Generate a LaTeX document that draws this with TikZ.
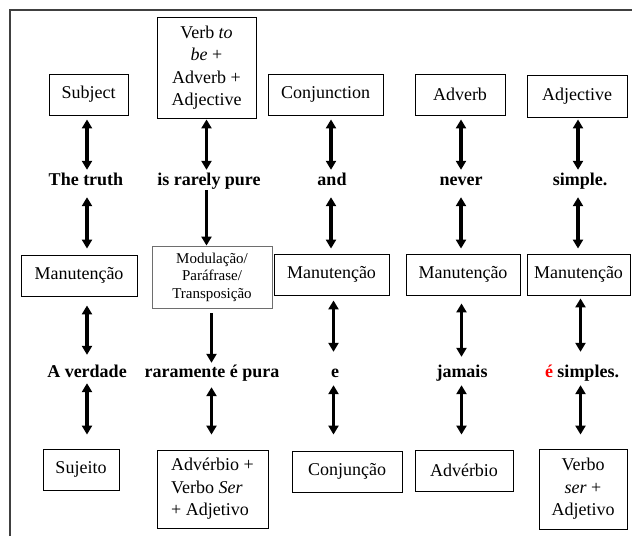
\documentclass[tikz,border=0pt]{standalone}
\usepackage{fontspec}
\setmainfont{Liberation Serif}
\usetikzlibrary{arrows.meta}
\definecolor{framecol}{RGB}{64,64,64}
\definecolor{modcol}{RGB}{110,110,110}
\begin{document}
\begin{tikzpicture}[x=1pt,y=-1pt,
  box/.style={draw=black, line width=0.9pt, inner sep=0pt, align=center, font=\fontsize{18}{22.5}\selectfont},
  word/.style={inner sep=0pt, text height=12pt, text depth=4pt, font=\fontsize{18}{22.5}\selectfont\bfseries},
  dbl/.style={line width=3.3pt, {Triangle[width=10pt,length=9pt]}-{Triangle[width=10pt,length=9pt]}},
  sgl/.style={line width=3.3pt, -{Triangle[width=10pt,length=9pt]}},
]
\useasboundingbox (0,0) rectangle (632,536);
\fill[white] (0,0) rectangle (632,536);
\draw[line width=2pt, framecol] (9.5,536) -- (9.5,9.5) -- (632,9.5);

% top row boxes
\node[box, minimum width=79pt, minimum height=41pt] (subj) at (88.5,94.5) {Subject};
\node[box, minimum width=99pt, minimum height=101pt] (verb) at (206.5,67.5) {Verb \textit{to}\\\textit{be} +\\Adverb +\\Adjective};
\node[box, minimum width=115pt, minimum height=41pt] (conj) at (325.5,94.5) {Conjunction};
\node[box, minimum width=90pt, minimum height=41pt] (adv) at (460,94.5) {Adverb};
\node[box, minimum width=100pt, minimum height=42pt] (adj) at (577,96) {Adjective};

% english words
\node[word] (w1) at (86,181) {The truth};
\node[word] (w2) at (209,181) {is rarely pure};
\node[word] (w3) at (332,181) {and};
\node[word] (w4) at (461,181) {never};
\node[word] (w5) at (580,181) {simple.};

% middle boxes
\node[box, minimum width=116pt, minimum height=41pt] (man1) at (79,275.5) {Manutenção};
\node[box, draw=modcol, minimum width=120pt, minimum height=62pt, font=\fontsize{15}{17.5}\selectfont] (mod) at (212,277) {Modulação/\\Paráfrase/\\Transposição};
\node[box, minimum width=115pt, minimum height=41pt] (man3) at (331.5,274.5) {Manutenção};
\node[box, minimum width=114pt, minimum height=41pt] (man4) at (463,274.5) {Manutenção};
\node[box, minimum width=103pt, minimum height=41pt] (man5) at (578.5,274.5) {Manutenção};

% portuguese words
\node[word] (w6) at (87,373) {A verdade};
\node[word] (w7) at (212,373) {raramente é pura};
\node[word] (w8) at (335,373) {e};
\node[word] (w9) at (462,373) {jamais};
\node[word] (w10) at (582,373) {\textcolor{red}{é} simples.};

% bottom boxes
\node[box, minimum width=76pt, minimum height=41pt] (suj) at (81,469.5) {Sujeito};
\node[box, align=left, minimum width=111pt, minimum height=78pt] (advv) at (212.5,489) {Advérbio +\\Verbo \textit{Ser}\\+ Adjetivo};
\node[box, minimum width=110pt, minimum height=41pt] (conjc) at (347,471.5) {Conjunção};
\node[box, minimum width=98pt, minimum height=41pt] (advb) at (464,470.5) {Advérbio};
\node[box, minimum width=88pt, minimum height=80pt] (vser) at (583,489) {Verbo\\\textit{ser} +\\Adjetivo};

% column coordinates
\coordinate (c1) at (87,0);
\coordinate (c2) at (206.5,0);
\coordinate (c2l) at (211.5,0);
\coordinate (c3) at (331,0);
\coordinate (c3l) at (333.5,0);
\coordinate (c4) at (461,0);
\coordinate (c4l) at (461.5,0);
\coordinate (c5) at (578,0);
\coordinate (c5l) at (580.5,0);

% column 1
\draw[dbl, shorten <=4pt, shorten >=3pt] (subj.south -| c1) -- (w1.north -| c1);
\draw[dbl, shorten <=8pt, shorten >=6pt] (w1.south -| c1) -- (man1.north -| c1);
\draw[dbl, shorten <=9pt, shorten >=10pt] (man1.south -| c1) -- (w6.north -| c1);
\draw[dbl, shorten <=2pt, shorten >=14pt] (w6.south -| c1) -- (suj.north -| c1);

% column 2
\draw[dbl, shorten <=1pt, shorten >=3pt] (verb.south -| c2) -- (w2.north -| c2);
\draw[sgl, shorten <=1pt, shorten >=0pt] (w2.south -| c2) -- (mod.north -| c2);
\draw[sgl, shorten <=5pt, shorten >=2pt] (mod.south -| c2l) -- (w7.north -| c2l);
\draw[dbl, shorten <=6pt, shorten >=15pt] (w7.south -| c2l) -- (advv.north -| c2l);

% column 3
\draw[dbl, shorten <=4pt, shorten >=3pt] (conj.south -| c3) -- (w3.north -| c3);
\draw[dbl, shorten <=8pt, shorten >=5pt] (w3.south -| c3) -- (man3.north -| c3);
\draw[dbl, shorten <=5pt, shorten >=13pt] (man3.south -| c3l) -- (w8.north -| c3l);
\draw[dbl, shorten <=4pt, shorten >=16pt] (w8.south -| c3l) -- (conjc.north -| c3l);

% column 4
\draw[dbl, shorten <=4pt, shorten >=3pt] (adv.south -| c4) -- (w4.north -| c4);
\draw[dbl, shorten <=8pt, shorten >=5pt] (w4.south -| c4) -- (man4.north -| c4);
\draw[dbl, shorten <=8pt, shorten >=8pt] (man4.south -| c4l) -- (w9.north -| c4l);
\draw[dbl, shorten <=4pt, shorten >=15pt] (w9.south -| c4l) -- (advb.north -| c4l);

% column 5
\draw[dbl, shorten <=2pt, shorten >=3pt] (adj.south -| c5) -- (w5.north -| c5);
\draw[dbl, shorten <=8pt, shorten >=5pt] (w5.south -| c5) -- (man5.north -| c5);
\draw[dbl, shorten <=3pt, shorten >=13pt] (man5.south -| c5l) -- (w10.north -| c5l);
\draw[dbl, shorten <=4pt, shorten >=14pt] (w10.south -| c5l) -- (vser.north -| c5l);
\end{tikzpicture}
\end{document}
